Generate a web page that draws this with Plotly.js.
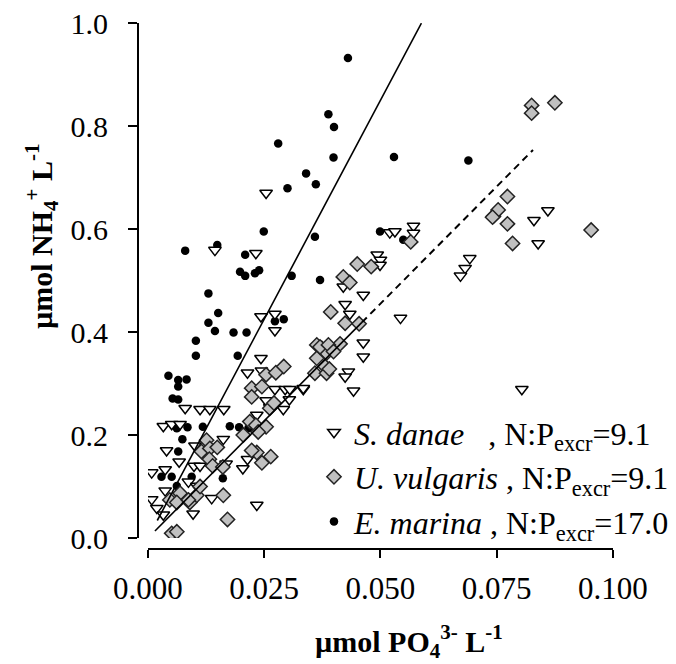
<!DOCTYPE html>
<html>
<head>
<meta charset="utf-8">
<script src="https://cdn.plot.ly/plotly-3.0.1.min.js"></script>
<style>html,body{margin:0;padding:0;background:#fff}#chart{width:676px;height:664px}</style>
</head>
<body>
<div id="chart"></div>
<script>
// S. danae (open triangles)
const danaeX = [0.0254,0.0144,0.0232,0.0243,0.0273,0.0273,0.0243,0.0214,0.0244,0.0080,0.0112,0.0133,0.0163,0.0273,0.0295,0.0305,0.0334,0.0254,0.0304,0.0291,0.0262,0.0234,0.0033,0.0051,0.0069,0.0162,0.0204,0.0214,0.0168,0.0101,0.0099,0.0112,0.0067,0.0040,0.0008,0.0037,0.0234,0.0137,0.0097,0.0008,0.0019,0.0033,0.0037,0.0087,0.0105,0.0493,0.0500,0.0499,0.0520,0.0531,0.0571,0.0571,0.0420,0.0463,0.0424,0.0434,0.0543,0.0463,0.0463,0.0431,0.0424,0.0442,0.0334,0.0692,0.0682,0.0672,0.0860,0.0830,0.0839,0.0804];
const danaeY = [0.670,0.559,0.553,0.430,0.435,0.403,0.349,0.321,0.325,0.252,0.250,0.250,0.250,0.289,0.289,0.289,0.289,0.267,0.269,0.250,0.254,0.239,0.217,0.221,0.221,0.192,0.135,0.153,0.144,0.179,0.140,0.140,0.148,0.170,0.127,0.133,0.064,0.077,0.047,0.075,0.058,0.045,0.092,0.109,0.101,0.550,0.540,0.530,0.593,0.595,0.606,0.592,0.488,0.472,0.454,0.435,0.427,0.379,0.352,0.323,0.313,0.286,0.291,0.543,0.524,0.509,0.636,0.617,0.572,0.289];

// U. vulgaris (grey diamonds)
const vulgX = [0.0254,0.0275,0.0292,0.0363,0.0374,0.0384,0.0363,0.0381,0.0359,0.0384,0.0223,0.0245,0.0223,0.0262,0.0271,0.0219,0.0232,0.0254,0.0205,0.0237,0.0126,0.0115,0.0133,0.0149,0.0132,0.0139,0.0161,0.0162,0.0171,0.0051,0.0062,0.0264,0.0245,0.0234,0.0223,0.0069,0.0047,0.0062,0.0090,0.0105,0.0112,0.0087,0.0450,0.0480,0.0420,0.0434,0.0393,0.0424,0.0454,0.0413,0.0370,0.0388,0.0399,0.0390,0.0565,0.0743,0.0773,0.0753,0.0741,0.0773,0.0784,0.0953,0.0825,0.0875,0.0825];
const vulgY = [0.317,0.321,0.333,0.375,0.368,0.359,0.349,0.333,0.320,0.320,0.291,0.294,0.274,0.252,0.262,0.226,0.219,0.216,0.200,0.206,0.190,0.168,0.174,0.176,0.153,0.140,0.138,0.083,0.036,0.009,0.012,0.158,0.146,0.166,0.170,0.087,0.074,0.069,0.069,0.083,0.100,0.074,0.532,0.527,0.507,0.496,0.439,0.417,0.416,0.377,0.371,0.375,0.362,0.328,0.575,0.625,0.663,0.637,0.623,0.610,0.572,0.598,0.840,0.845,0.825];

// E. marina (black circles)
const marinaX = [0.0430,0.0388,0.0400,0.0280,0.0399,0.0529,0.0689,0.0340,0.0361,0.0300,0.0249,0.0359,0.0499,0.0549,0.0149,0.0080,0.0209,0.0198,0.0209,0.0230,0.0239,0.0309,0.0370,0.0130,0.0151,0.0130,0.0144,0.0184,0.0212,0.0103,0.0103,0.0193,0.0273,0.0292,0.0044,0.0065,0.0083,0.0065,0.0053,0.0065,0.0062,0.0085,0.0118,0.0176,0.0196,0.0216,0.0074,0.0065,0.0029,0.0051,0.0094,0.0062,0.0161];
const marinaY = [0.932,0.823,0.798,0.766,0.739,0.740,0.733,0.708,0.687,0.679,0.595,0.585,0.595,0.579,0.569,0.558,0.550,0.517,0.509,0.514,0.520,0.509,0.501,0.475,0.437,0.418,0.402,0.399,0.399,0.383,0.354,0.354,0.421,0.425,0.315,0.307,0.308,0.294,0.271,0.269,0.213,0.215,0.216,0.217,0.215,0.213,0.192,0.168,0.119,0.119,0.119,0.101,0.116];

// N:P excretion ratio fits (y = ratio * x) and their x extents
const ratioDanaeVulg = 9.1;
const ratioMarina = 17.0;
const fitSolidDVRange = [0.0015, 0.046];
const fitDashedDVRange = [0.046, 0.0828];
const fitMarinaRange = [0.002, 0.0588];

const xTicks = [0, 0.025, 0.05, 0.075, 0.1];
const xTickText = ['0.000','0.025','0.050','0.075','0.100'];
const yTicks = [0, 0.2, 0.4, 0.6, 0.8, 1.0];
const yTickText = ['0.0','0.2','0.4','0.6','0.8','1.0'];

const FONT = '"Liberation Serif", "Times New Roman", serif';
const line = (r, k) => r.map(v => k * v);

const traces = [
  {x: marinaX, y: marinaY, type: 'scatter', mode: 'markers', name: '<i>E. marina</i> , N:P<sub>excr</sub>=17.0',
   legendrank: 3, legendgroup: 'c',
   marker: {symbol: 'circle', size: 8.5, color: '#000', line: {width: 0}}},
  {x: danaeX, y: danaeY, type: 'scatter', mode: 'markers', name: '<i>S. danae</i>\u00a0\u00a0\u00a0, N:P<sub>excr</sub>=9.1',
   legendrank: 1, legendgroup: 'a',
   marker: {symbol: 'triangle-down', size: 11, color: '#fff', line: {width: 1.5, color: '#000'}}},
  {x: vulgX, y: vulgY, type: 'scatter', mode: 'markers', name: '<i>U. vulgaris</i> , N:P<sub>excr</sub>=9.1',
   legendrank: 2, legendgroup: 'b',
   marker: {symbol: 'diamond', size: 11, color: '#c0c0c0', line: {width: 1.5, color: '#222'}}},
  {x: fitMarinaRange, y: line(fitMarinaRange, ratioMarina), type: 'scatter', mode: 'lines', showlegend: false,
   line: {color: '#000', width: 1.6}},
  {x: fitSolidDVRange, y: line(fitSolidDVRange, ratioDanaeVulg), type: 'scatter', mode: 'lines', showlegend: false,
   line: {color: '#000', width: 1.6}},
  {x: fitDashedDVRange, y: line(fitDashedDVRange, ratioDanaeVulg), type: 'scatter', mode: 'lines', showlegend: false,
   line: {color: '#000', width: 2, dash: '7px,5px'}}
];

const layout = {
  width: 676, height: 664,
  margin: {l: 138, r: 63, t: 23, b: 115, autoexpand: false},
  paper_bgcolor: '#fff', plot_bgcolor: '#fff',
  font: {family: FONT, size: 30, color: '#000'},
  showlegend: true,
  legend: {x: 0.3705, y: 0.274, xanchor: 'left', yanchor: 'top', bgcolor: 'rgba(0,0,0,0)',
           font: {family: FONT, size: 32, color: '#000'}, traceorder: 'normal', tracegroupgap: 0,
           itemsizing: 'trace'},
  xaxis: {range: [0, 0.1], domain: [0.021, 1], anchor: 'free', position: 0, automargin: false,
          tickvals: xTicks, ticktext: xTickText, ticks: 'outside', ticklen: 8, tickwidth: 2, tickcolor: '#000',
          ticklabelstandoff: 4,
          showline: true, linewidth: 2, linecolor: '#000', showgrid: false, zeroline: false,
          tickfont: {family: FONT, size: 31, color: '#000'}},
  yaxis: {range: [0, 1], domain: [0.0209, 1], anchor: 'free', position: 0, automargin: false,
          tickvals: yTicks, ticktext: yTickText, ticks: 'outside', ticklen: 9, tickwidth: 2, tickcolor: '#000',
          ticklabelstandoff: 14,
          showline: true, linewidth: 2, linecolor: '#000', showgrid: false, zeroline: false,
          tickfont: {family: FONT, size: 30, color: '#000'}},
  annotations: [
    {xref: 'paper', yref: 'paper', x: (409-138)/475, y: (549-641)/526, xanchor: 'center', yanchor: 'middle',
     showarrow: false, text: '<b>µmol PO<sub>4</sub><sup>3-</sup> L<sup>-1</sup></b>',
     font: {family: FONT, size: 30, color: '#000'}},
    {xref: 'paper', yref: 'paper', x: (42-138)/475, y: (549-236)/526, xanchor: 'center', yanchor: 'middle',
     textangle: -90, showarrow: false, text: '<b>µmol NH<sub>4</sub><sup>+</sup> L<sup>-1</sup></b>',
     font: {family: FONT, size: 30, color: '#000'}}
  ]
};

Plotly.newPlot('chart', traces, layout, {displayModeBar: false, staticPlot: true});
</script>
</body>
</html>
